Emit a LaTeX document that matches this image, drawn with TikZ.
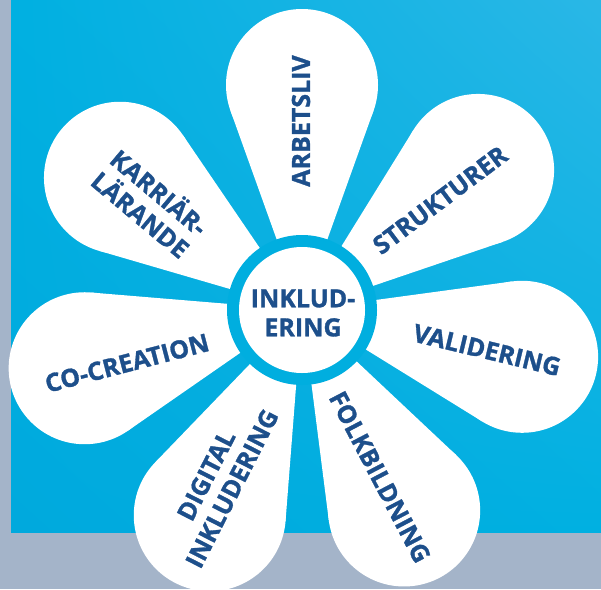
\documentclass[tikz,border=0pt]{standalone}
\usepackage{fontspec}
\newfontfamily\labfont[BoldFeatures={FakeBold=1.2}]{Open Sans}
\usetikzlibrary{calc,shadings}
\definecolor{graybg}{HTML}{A4B4C9}
\definecolor{cyanA}{HTML}{00B0E1}
\definecolor{cyanB}{HTML}{2AB7E6}
\definecolor{cyanC}{HTML}{00A9DD}
\definecolor{ringcyan}{HTML}{00AEDF}
\definecolor{txtblue}{HTML}{1D4F8B}
\begin{document}
\begin{tikzpicture}[x=1pt,y=-1pt,
  lab/.style={text=txtblue, font=\labfont\bfseries\fontsize{25}{29}\selectfont, align=center, inner sep=0pt},
  petalfill/.style={fill=white}]
\useasboundingbox (0,0) rectangle (601,589);
\fill[graybg] (0,0) rectangle (601,589);
\shade[upper left=cyanA, upper right=cyanB, lower left=cyanC, lower right=cyanA] (11,0) rectangle (601,532);
\coordinate (c) at (302,310);
\foreach \ang/\nm in {90/a, 38.5/b, -12/c, -63/d, -114.2/e, -165/f, 144/g} {
  \coordinate (p\nm) at ($(c)+(-\ang:225)$);
  \fill[petalfill] (p\nm) circle (76pt);
  \fill[petalfill] (c) -- ($(c)+(-\ang+19.74:211.8)$) -- ($(c)+(-\ang-19.74:211.8)$) -- cycle;
}
\fill[ringcyan] (c) circle (75pt);
\fill[white] (c) circle (63pt);
\node[lab] (center) at (303,313) {INKLUD-\\ERING};
\node[lab, rotate=90] (arb) at (301,121) {ARBETSLIV};
\node[lab, rotate=37] (str) at (440,200) {STRUKTURER};
\node[lab, rotate=-13.5] (val) at (487,350) {VALIDERING};
\node[lab, rotate=-62.4] (folk) at (380,477) {FOLKBILDNING};
\node[lab, rotate=63] (dig) at (219,482) {DIGITAL\\INKLUDERING};
\node[lab, rotate=14.6] (co) at (127,363) {CO-CREATION};
\node[lab, rotate=-40] (kar) at (151,202) {KARRIÄR-\\LÄRANDE};
\end{tikzpicture}
\end{document}
